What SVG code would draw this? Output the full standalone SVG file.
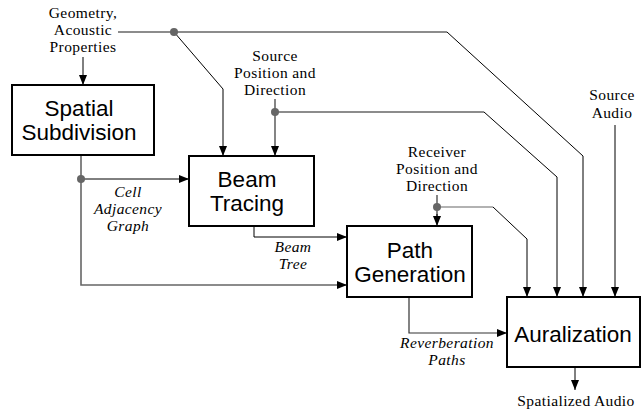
<svg xmlns="http://www.w3.org/2000/svg" width="644" height="410" viewBox="0 0 644 410">
<style>
.box{fill:#fff;stroke:#000;stroke-width:2}
.bt{font-family:"Liberation Sans",Arial,sans-serif;font-size:22.5px;fill:#000;text-anchor:middle}
.lt{font-family:"Liberation Serif","Times New Roman",serif;font-size:15.5px;letter-spacing:0.4px;fill:#000;text-anchor:middle}
.it{font-family:"Liberation Serif","Times New Roman",serif;font-size:15.5px;letter-spacing:0.4px;font-style:italic;fill:#000;text-anchor:middle}
.g{fill:none;stroke:#666;stroke-width:1.6}
.k{fill:none;stroke:#000;stroke-width:1}
.dot{fill:#666}
</style>
<defs>
<marker id="ah" viewBox="0 0 10 8" refX="10" refY="4" markerWidth="10" markerHeight="8" markerUnits="userSpaceOnUse" orient="auto">
<path d="M0,0 L10,4 L0,8 Z" fill="#000"/>
</marker>
</defs>
<rect width="644" height="410" fill="#fff"/>
<g id="connectors">
<path class="k" d="M83,57 V85" marker-end="url(#ah)"/>
<path class="g" d="M118,32 H447"/>
<path class="k" d="M447,32 L583,156 V297" marker-end="url(#ah)"/>
<path class="k" d="M174,32 L223,89 V156" marker-end="url(#ah)"/>
<path class="g" d="M275,99 V148"/>
<path class="k" d="M275,146 V156" marker-end="url(#ah)"/>
<path class="g" d="M275,112 H484"/>
<path class="k" d="M484,112 L557,177 V297" marker-end="url(#ah)"/>
<path class="k" d="M615,125 V297" marker-end="url(#ah)"/>
<path class="g" d="M437,195 V216"/>
<path class="k" d="M437,214 V226" marker-end="url(#ah)"/>
<path class="g" d="M437,207 H493" style="stroke-width:1.2"/>
<path class="k" d="M493,207 L527,239 V297" marker-end="url(#ah)"/>
<path class="g" d="M81,155 V285 H340"/>
<path class="k" d="M338,285 H347" marker-end="url(#ah)"/>
<path class="k" d="M81,179 H189" marker-end="url(#ah)"/>
<path class="k" d="M254,226 V237 H347" marker-end="url(#ah)"/>
<path class="k" d="M409,297 V333 H507" marker-end="url(#ah)" style="stroke:#333;stroke-width:1.2"/>
<path class="k" d="M575,367 V390" marker-end="url(#ah)"/>
<circle class="dot" cx="174" cy="32" r="4"/>
<circle class="dot" cx="275" cy="112" r="4"/>
<circle class="dot" cx="437" cy="207" r="4"/>
<circle class="dot" cx="81" cy="179" r="4"/>
</g>
<g id="labels">
<text class="lt" x="83" y="18">Geometry,</text>
<text class="lt" x="83" y="35">Acoustic</text>
<text class="lt" x="83" y="52">Properties</text>
<text class="lt" x="275" y="61">Source</text>
<text class="lt" x="275" y="78">Position and</text>
<text class="lt" x="275" y="95">Direction</text>
<text class="lt" x="612" y="100">Source</text>
<text class="lt" x="612" y="118">Audio</text>
<text class="lt" x="437" y="157">Receiver</text>
<text class="lt" x="437" y="174">Position and</text>
<text class="lt" x="437" y="191">Direction</text>
<text class="it" x="128" y="197">Cell</text>
<text class="it" x="128" y="214">Adjacency</text>
<text class="it" x="128" y="231">Graph</text>
<text class="it" x="293" y="252">Beam</text>
<text class="it" x="293" y="269">Tree</text>
<text class="it" x="447" y="348">Reverberation</text>
<text class="it" x="447" y="365">Paths</text>
<text class="lt" x="576" y="406">Spatialized Audio</text>
</g>
<g id="spatial">
<rect class="box" x="12" y="85" width="142" height="70"/>
<text class="bt" x="79" y="116">Spatial</text>
<text class="bt" x="79" y="140">Subdivision</text>
</g>
<g id="beam">
<rect class="box" x="189" y="156" width="125" height="70"/>
<text class="bt" x="247" y="187">Beam</text>
<text class="bt" x="247" y="211">Tracing</text>
</g>
<g id="path">
<rect class="box" x="347" y="226" width="125" height="71"/>
<text class="bt" x="410" y="258">Path</text>
<text class="bt" x="410" y="282">Generation</text>
</g>
<g id="auralization">
<rect class="box" x="507" y="297" width="133" height="70"/>
<text class="bt" x="573" y="342">Auralization</text>
</g>
</svg>
